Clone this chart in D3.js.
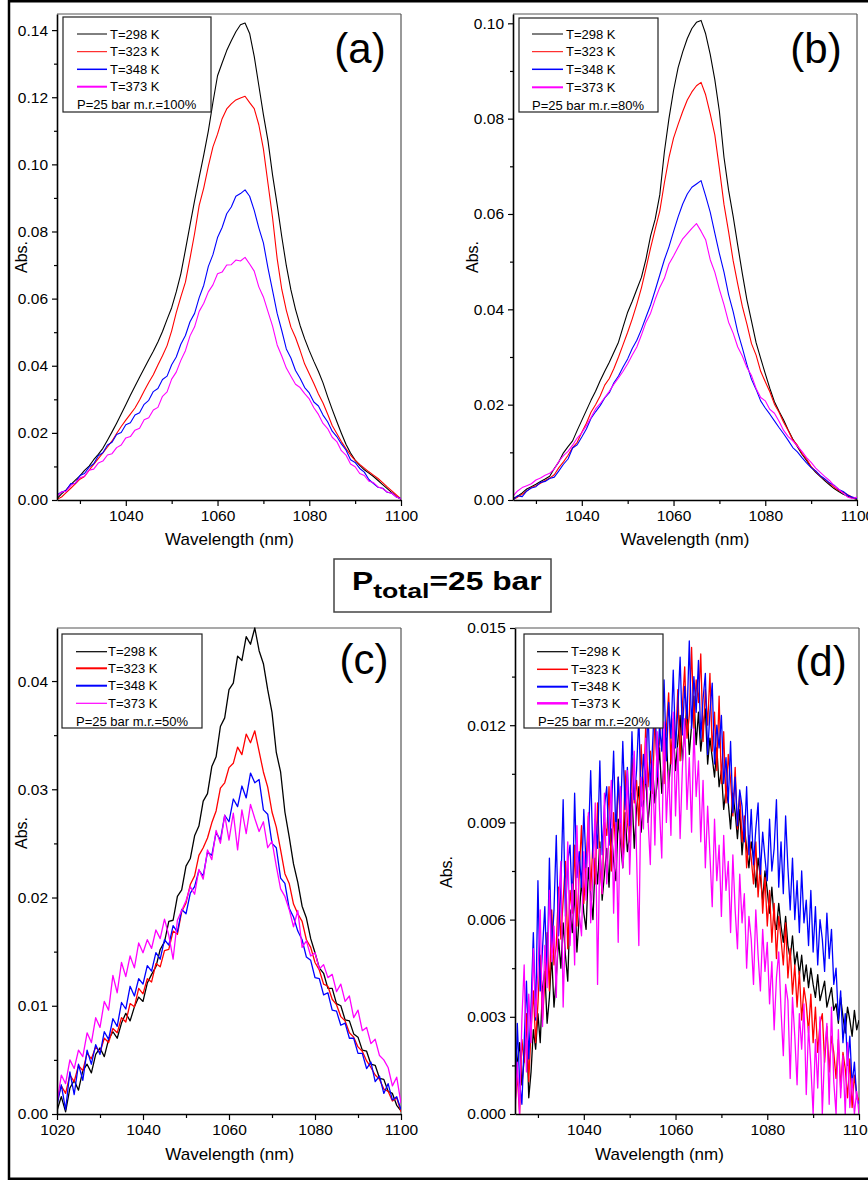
<!DOCTYPE html>
<html><head><meta charset="utf-8">
<script src="https://cdn.jsdelivr.net/npm/d3@7"></script>
<style>
body{margin:0;background:#fff;}
svg{display:block;}
text{font-family:Arial,"Liberation Sans",sans-serif;fill:#000;}
</style>
</head><body>
<svg id="chart" width="868" height="1180"></svg>
<script>
// ---------------- DATA (absorbance in units of 1e-3) ----------------
const seriesLabels = ["T=298 K", "T=323 K", "T=348 K", "T=373 K"];
const seriesColors = ["#000000", "#ff0000", "#0000ff", "#ff00ff"];
const panelNotes = ["P=25 bar m.r.=100%", "P=25 bar m.r.=80%", "P=25 bar m.r.=50%", "P=25 bar m.r.=20%"];
const panelTags = ["(a)", "(b)", "(c)", "(d)"];

// wavelength grids (nm)
const wlAB = d3.range(1025, 1100.5, 1);
const wlC = d3.range(1020, 1100.5, 1);
const wlD = d3.range(1025, 1100.25, 0.5);

// panel (a) m.r.=100%
const a298 = [0.4,1.8,3.0,4.6,5.9,7.2,8.8,10.1,12.0,13.6,
15.4,17.8,20.3,22.9,25.6,28.4,31.2,33.9,36.6,39.2,
41.8,44.3,47.1,50.2,53.8,57.3,62.0,67.4,74.5,81.9,
89.2,96.1,102.8,110.0,118.5,126.4,130.2,133.9,136.8,139.5,
141.6,142.1,139.0,132.2,123.5,114.8,107.0,96.8,88.0,78.5,
69.8,62.6,56.8,52.0,48.0,44.5,41.3,38.3,34.9,30.8,
27.0,23.4,19.9,16.6,14.0,11.9,10.3,9.0,8.0,7.0,
5.8,4.6,3.4,2.2,1.0,0.2];
const a323 = [0.2,0.9,2.2,3.5,4.8,6.2,7.0,8.9,10.6,12.3,
14.0,15.8,17.6,19.8,21.9,23.8,25.6,27.4,29.8,32.5,
35.0,37.3,40.2,43.0,46.0,50.4,55.8,60.5,64.9,72.0,
79.4,87.8,93.0,99.5,105.2,109.0,113.6,116.5,118.0,119.2,
119.8,120.3,118.4,116.6,111.8,104.6,94.3,84.1,71.9,62.8,
56.5,51.5,48.4,44.6,40.5,37.6,34.7,31.6,28.9,25.6,
22.2,19.8,17.4,15.3,13.4,11.8,10.6,9.5,8.4,7.4,
6.4,5.2,3.9,2.7,1.5,0.3];
const a348 = [1.5,2.4,2.8,4.9,5.0,7.3,7.9,9.8,10.8,13.2,
14.1,16.4,17.2,19.5,20.1,22.4,23.0,25.3,26.0,28.5,
29.7,32.3,33.2,35.9,36.9,40.3,42.6,46.4,49.0,53.1,
55.6,60.3,64.0,69.6,73.1,78.2,81.2,85.3,87.3,90.5,
91.3,92.4,90.5,86.3,81.1,76.6,69.1,62.4,55.6,50.5,
45.0,42.3,38.6,36.3,33.5,31.9,29.2,28.0,25.3,23.3,
20.5,18.9,16.7,14.9,12.0,11.2,9.4,8.3,6.1,4.9,
3.8,3.5,2.3,2.0,0.9,0.4];
const a373 = [1.0,2.4,2.6,4.3,5.1,6.6,7.1,8.9,9.2,11.0,
11.6,13.4,13.8,15.6,16.4,18.5,18.9,20.8,21.4,23.9,
24.5,26.8,27.6,30.9,32.2,36.0,38.1,41.6,44.5,48.9,
51.6,56.2,58.6,62.0,64.1,67.4,67.9,70.0,70.1,71.5,
71.2,72.3,70.3,68.2,63.5,60.5,56.1,51.8,46.2,42.9,
39.3,36.9,34.5,33.5,31.7,30.1,27.5,25.5,22.8,21.3,
18.7,17.4,14.7,13.4,10.7,9.9,7.9,7.3,5.6,5.2,
3.9,3.4,2.4,2.0,0.9,0.3];

// panel (b) m.r.=80%
const b298 = [0.3,0.8,1.5,2.3,2.8,3.3,3.9,4.4,5.0,6.6,
8.0,9.9,11.2,12.4,14.6,16.7,18.8,20.9,22.8,25.0,
27.0,28.9,31.0,33.1,36.3,39.4,41.7,44.2,46.7,50.6,
55.4,58.9,64.0,73.0,80.0,85.9,90.7,94.0,96.8,98.9,
100.2,100.6,97.8,93.5,88.2,81.5,71.9,65.0,59.5,53.4,
47.5,42.0,37.5,33.0,29.7,26.5,23.4,20.6,18.6,16.8,
14.7,12.8,11.2,9.6,8.3,6.9,5.8,4.9,4.0,3.2,
2.4,1.8,1.2,0.8,0.4,0.1];
const b323 = [0.1,0.6,1.2,1.9,2.6,3.0,3.5,4.1,4.6,5.3,
6.8,8.0,9.4,11.0,12.1,14.2,16.1,18.4,20.0,21.8,
24.1,25.5,27.6,30.0,32.6,35.2,38.0,41.1,44.5,48.6,
52.9,56.8,60.6,66.5,71.8,75.9,78.8,81.5,83.9,85.6,
86.9,87.6,85.0,81.0,76.6,69.5,62.0,56.3,50.2,45.3,
40.6,36.9,32.8,30.4,27.0,24.8,22.7,20.1,18.4,16.3,
14.6,12.6,11.5,9.8,8.6,7.0,6.0,5.0,4.3,3.5,
2.7,2.0,1.6,1.1,0.6,0.2];
const b348 = [0.0,0.9,0.7,1.9,2.5,2.8,3.7,3.9,4.5,4.8,
6.1,7.5,8.6,10.9,11.6,13.2,14.9,17.1,18.5,19.8,
21.4,22.5,24.6,26.0,27.9,29.6,31.8,33.5,35.8,38.4,
40.9,44.0,47.2,50.4,53.1,56.3,59.4,62.1,64.2,65.6,
66.3,67.0,63.8,60.4,56.0,51.7,47.8,43.1,39.5,35.2,
31.9,28.4,25.3,23.2,20.8,19.3,18.0,16.6,15.2,13.9,
12.5,11.0,10.1,8.9,7.8,6.8,6.1,5.1,4.4,3.6,
3.1,2.2,1.8,1.0,0.6,0.3];
const b373 = [0.8,1.9,2.6,3.0,3.4,4.2,4.6,5.2,5.6,6.5,
8.1,9.3,10.2,11.5,13.0,14.1,15.6,17.3,19.1,20.2,
21.5,22.8,24.3,25.6,27.0,28.6,30.4,32.1,34.6,37.3,
39.2,42.1,44.6,46.5,49.5,51.2,53.0,54.8,55.9,57.0,
58.0,56.4,54.6,50.4,47.8,44.2,41.0,37.3,35.0,32.1,
30.2,27.8,26.1,23.4,21.5,20.8,19.0,18.2,16.5,14.6,
13.3,12.4,11.3,10.2,8.9,7.9,6.7,5.8,4.9,4.1,
3.0,2.3,1.4,0.6,0.3,0.6];

// panel (c) m.r.=50%
const c298 = [0.3,1.6,0.2,2.4,3.1,2.2,4.0,4.6,3.8,5.5,
6.1,5.3,6.9,7.6,7.0,8.4,9.3,8.6,9.9,10.8,
10.4,12.1,12.9,13.6,15.2,15.9,17.8,17.9,20.1,20.7,
22.9,23.6,25.7,26.6,28.9,29.6,32.1,33.0,35.8,36.6,
39.2,39.8,42.3,41.9,44.1,43.4,44.9,42.8,41.6,39.2,
37.1,33.4,31.6,27.9,25.6,23.1,21.4,19.2,18.1,16.2,
14.9,13.5,13.0,11.6,11.6,10.2,10.0,8.7,8.6,7.4,
7.1,5.9,5.8,4.6,4.5,3.3,3.2,2.1,1.9,0.8,
0.3];
const c323 = [1.2,2.6,1.9,3.6,3.0,4.5,4.0,5.6,5.1,6.2,
5.7,7.0,6.6,7.9,7.5,8.9,8.5,10.2,9.9,11.6,
11.1,12.5,12.2,13.9,13.6,15.1,15.2,16.9,16.6,18.7,
19.5,21.2,22.0,23.9,24.6,25.5,26.9,28.0,30.1,30.6,
32.0,32.4,33.9,33.2,35.1,34.3,35.4,33.5,31.6,30.2,
27.9,26.5,24.4,22.2,21.3,19.4,18.5,17.8,16.1,15.4,
14.0,13.3,12.0,11.8,10.6,10.1,9.0,8.6,7.5,7.1,
6.2,5.8,4.9,4.3,3.6,3.2,2.3,2.1,1.2,1.5,
0.2];
const c348 = [0.8,2.7,0.4,3.9,1.8,4.6,3.1,5.9,4.6,6.4,
5.5,7.6,6.9,8.8,8.1,10.3,9.7,11.8,10.9,12.5,
12.0,13.7,13.2,14.9,14.3,16.1,15.6,17.4,16.8,18.9,
18.5,20.4,21.0,22.5,22.0,24.2,23.9,26.0,25.3,27.6,
27.0,29.1,28.4,30.3,29.2,31.5,30.6,30.9,28.1,27.7,
25.0,24.6,21.8,21.3,19.0,18.2,16.9,16.1,14.5,14.2,
12.6,12.5,11.0,11.2,9.6,9.5,8.2,8.4,7.0,7.0,
5.6,5.6,4.2,4.8,3.0,3.5,1.9,2.8,1.3,1.6,
0.4];
const c373 = [1.0,3.6,2.8,5.0,4.2,5.9,5.3,7.5,6.6,8.9,
8.0,10.4,9.6,12.8,11.2,14.0,12.7,14.6,13.5,15.8,
14.9,16.1,15.3,17.0,16.2,18.0,16.5,14.3,17.9,18.8,
19.7,21.0,20.3,22.6,21.7,24.4,23.5,26.2,25.0,27.6,
25.3,27.8,24.4,28.1,25.9,28.6,27.3,26.1,27.0,24.6,
25.2,22.9,20.8,20.1,18.9,17.3,18.8,15.4,16.0,14.6,
14.9,13.4,13.8,12.6,12.9,11.3,12.0,10.4,10.9,8.9,
9.6,7.7,8.0,6.5,6.9,5.4,5.0,4.3,2.6,3.4,
1.0];

// panel (d) m.r.=20%  (0.5 nm steps)
const d298 = [0.4,1.6,2.2,0.9,1.7,2.9,0.5,1.3,2.6,2.0,
3.1,2.2,3.9,4.4,2.8,3.6,4.9,3.3,4.2,5.4,
4.5,5.9,4.9,4.1,6.3,5.6,6.9,5.0,6.1,7.2,
6.2,5.7,7.6,6.8,6.0,7.9,7.1,8.4,6.6,7.4,
8.2,7.0,8.8,7.8,7.2,9.1,8.4,7.6,9.3,8.1,
8.6,9.9,8.2,9.4,10.1,8.7,9.6,10.5,9.0,9.8,
10.7,9.6,10.2,11.3,9.9,10.8,11.6,10.1,11.0,11.9,
10.6,11.5,12.3,10.9,11.8,12.6,11.1,12.0,12.9,11.4,
12.4,11.2,11.9,12.5,10.8,11.6,11.0,10.4,11.3,10.1,
10.6,9.4,10.0,9.6,8.8,9.9,9.3,8.5,9.4,8.0,
8.9,8.2,7.6,8.4,7.9,7.0,7.9,7.3,6.6,7.5,
6.9,6.2,7.0,6.0,5.7,6.5,5.8,5.3,6.1,5.2,
4.8,5.5,4.6,5.0,4.3,4.9,4.1,4.6,3.9,4.5,
4.0,3.6,4.3,3.5,3.8,4.1,3.3,3.6,3.9,3.2,
3.4,2.8,3.6,3.0,2.5,3.3,2.9,2.4,3.2,2.6,
2.9];
const d323 = [0.3,1.2,0.0,2.3,1.6,3.1,1.0,2.6,3.8,2.2,
3.4,4.9,2.9,4.1,5.6,3.8,6.3,4.6,5.2,7.0,
5.4,6.6,7.8,5.1,6.9,6.2,8.3,5.8,7.4,8.9,
6.5,7.7,9.2,6.9,8.4,7.1,9.6,7.8,6.8,9.0,
8.6,10.1,7.5,9.3,8.1,10.4,8.8,7.9,10.6,9.0,
8.4,11.0,9.6,10.3,8.9,11.4,9.7,12.0,10.1,11.2,
9.9,12.3,10.6,11.5,12.7,10.2,11.9,13.0,10.8,12.2,
11.4,13.1,10.9,12.6,13.8,11.6,12.3,14.4,11.9,13.4,
12.7,14.2,11.5,13.1,12.0,13.6,11.2,12.4,10.6,12.9,
10.2,11.8,9.6,11.1,10.3,9.2,10.7,8.8,9.9,8.4,
9.2,7.6,8.6,7.9,7.1,8.4,6.7,7.8,6.2,7.3,
5.8,6.9,5.3,6.5,4.8,6.1,5.4,4.6,5.9,4.2,
5.1,3.7,4.6,3.3,4.4,2.9,3.9,3.4,2.5,3.7,
2.2,3.3,1.9,2.8,3.1,1.6,2.7,1.3,2.4,1.9,
1.1,2.3,0.8,1.9,1.4,0.5,1.7,0.2,1.2,0.6,
0.4];
const d348 = [0.0,2.8,1.0,0.3,2.2,4.1,1.7,3.3,5.6,2.9,
7.2,3.8,5.1,6.4,4.2,7.9,5.0,6.3,8.6,5.5,
7.0,9.7,6.1,7.8,8.3,6.4,9.9,7.3,8.1,7.0,
9.4,7.6,8.4,10.6,7.9,9.1,8.2,10.9,8.0,9.5,
10.1,8.3,9.2,11.2,8.6,10.4,9.0,11.5,9.4,10.7,
8.9,11.8,9.7,10.6,12.3,9.5,11.1,10.2,12.6,10.0,
11.4,13.0,10.4,12.0,11.2,13.4,10.9,12.7,11.6,13.7,
11.3,12.5,14.1,11.7,13.2,12.2,14.6,11.9,13.5,12.4,
14.0,11.6,12.8,13.6,11.1,12.4,13.3,10.8,12.0,11.3,
12.3,10.2,11.0,9.6,11.5,9.3,10.4,8.9,10.0,9.5,
8.4,10.1,8.0,9.4,7.7,8.8,9.6,7.4,8.7,7.9,
7.2,9.1,7.5,8.2,9.7,7.0,8.4,6.8,9.2,7.6,
6.3,7.9,6.0,7.2,5.6,7.5,5.9,6.6,5.2,6.9,
5.0,6.4,4.6,6.0,5.4,4.4,6.2,4.8,5.7,4.0,
4.5,2.9,3.8,2.2,3.1,1.5,2.4,0.9,1.6,0.5,
0.3];
const d373 = [0.0,1.6,0.0,2.9,4.6,1.3,3.7,2.2,5.1,3.0,
4.4,6.3,2.7,5.2,3.9,6.9,4.7,5.8,3.6,6.5,
7.8,3.3,6.0,8.4,5.2,7.1,4.6,8.9,6.2,5.5,
8.1,6.6,9.3,5.9,7.4,9.6,4.0,8.2,6.8,9.9,
7.1,8.7,10.3,6.2,9.0,5.3,10.1,7.6,8.5,10.6,
7.4,9.5,11.2,8.0,5.2,10.4,8.8,11.6,9.1,7.7,
10.9,8.3,11.8,9.4,7.9,12.1,9.0,10.6,8.6,12.4,
9.2,11.3,8.5,10.7,12.2,9.4,11.0,8.7,11.9,9.8,
10.9,8.4,10.3,7.6,9.5,8.0,6.4,9.1,7.2,8.3,
6.1,8.6,6.9,7.8,5.6,8.0,6.3,5.1,7.4,5.9,
6.8,4.5,6.1,5.4,4.0,6.3,4.9,3.8,5.7,4.4,
5.3,3.4,4.7,2.6,4.2,5.0,3.2,1.8,4.0,3.5,
1.1,3.6,2.4,0.9,3.1,2.0,3.4,0.6,2.7,1.5,
0.0,2.3,0.8,3.0,0.0,1.9,2.8,0.3,3.3,1.0,
0.0,2.6,0.5,1.8,0.0,2.2,0.2,1.1,0.0,0.7,
0.0];

// axis ticks (values in 1e-3 units) and their labels
const yTicksA = [0,20,40,60,80,100,120,140];
const yLabelsA = ["0.00","0.02","0.04","0.06","0.08","0.10","0.12","0.14"];
const yTicksB = [0,20,40,60,80,100];
const yLabelsB = ["0.00","0.02","0.04","0.06","0.08","0.10"];
const yTicksC = [0,10,20,30,40];
const yLabelsC = ["0.00","0.01","0.02","0.03","0.04"];
const yTicksD = [0,3,6,9,12,15];
const yLabelsD = ["0.000","0.003","0.006","0.009","0.012","0.015"];
const xTicksABD = [1040,1060,1080,1100];
const xMinorABD = [1030,1050,1070,1090];
const xTicksC = [1020,1040,1060,1080,1100];
const xMinorC = [1030,1050,1070,1090];

// ---------------- LAYOUT ----------------
const panels = [
  {id:"a", wl:wlAB, series:[a298,a323,a348,a373], xDomain:[1025,1100], yMax:144.8,
   left:57, right:401, top:14, bottom:500,
   yTicks:yTicksA, yLabels:yLabelsA, yMinor:[10,30,50,70,90,110,130],
   xTicks:xTicksABD, xMinor:xMinorABD, lw:1.1,
   tag:{x:360,y:63}, xt:{x:229.5,y:545}, yt:{x:27,y:257},
   leg:{box:[63,17,211,112], lx:[77,107], tx:110, rows:[34,51.7,69.3,86.7], py:104, px:77, lws:[1,1,1.5,2]}},
  {id:"b", wl:wlAB, series:[b298,b323,b348,b373], xDomain:[1025,1100], yMax:101.95,
   left:513, right:857, top:14, bottom:500,
   yTicks:yTicksB, yLabels:yLabelsB, yMinor:[10,30,50,70,90],
   xTicks:xTicksABD, xMinor:xMinorABD, lw:1.1,
   tag:{x:816,y:63}, xt:{x:685,y:545}, yt:{x:478,y:257},
   leg:{box:[519,18,658,112], lx:[532,563], tx:566, rows:[34,51.7,69.3,87.3], py:105, px:532, lws:[1,1,1.5,2]}},
  {id:"c", wl:wlC, series:[c298,c323,c348,c373], xDomain:[1020,1100], yMax:44.9,
   left:57, right:401, top:628, bottom:1114,
   yTicks:yTicksC, yLabels:yLabelsC, yMinor:[5,15,25,35],
   xTicks:xTicksC, xMinor:xMinorC, lw:1.3,
   tag:{x:364,y:674}, xt:{x:229.7,y:1160}, yt:{x:27,y:833},
   leg:{box:[62,634,202,728], lx:[76,107], tx:108, rows:[651.7,668.3,685.7,703.3], py:721, px:76, lws:[1.2,2,2,1.2]}},
  {id:"d", wl:wlD, series:[d298,d323,d348,d373], xDomain:[1025,1100], yMax:15.0,
   left:515, right:859, top:628, bottom:1114,
   yTicks:yTicksD, yLabels:yLabelsD, yMinor:[1.5,4.5,7.5,10.5,13.5],
   xTicks:xTicksABD, xMinor:xMinorABD, lw:1.3,
   tag:{x:821,y:676}, xt:{x:659.5,y:1160}, yt:{x:452,y:872},
   leg:{box:[524,634,663,728], lx:[537,568], tx:571, rows:[651.7,669.3,686.7,703.3], py:721.7, px:538, lws:[1.2,1.5,2,2.5]}}
];

const svg = d3.select("#chart");
svg.append("rect").attr("x",0).attr("y",0).attr("width",868).attr("height",1180).attr("fill","#fff");

panels.forEach((p, pi) => {
  const x = d3.scaleLinear().domain(p.xDomain).range([p.left, p.right]);
  const y = d3.scaleLinear().domain([0, p.yMax]).range([p.bottom, p.top]);
  const g = svg.append("g");
  const clipId = "clip-" + p.id;
  svg.append("clipPath").attr("id", clipId).append("rect")
    .attr("x", p.left).attr("y", p.top - 1).attr("width", p.right - p.left).attr("height", p.bottom - p.top + 1);

  // frame top/right (grey)
  g.append("line").attr("x1",p.left).attr("x2",p.right).attr("y1",p.top).attr("y2",p.top).attr("stroke","#555").attr("stroke-width",1.2);
  g.append("line").attr("x1",p.right).attr("x2",p.right).attr("y1",p.top).attr("y2",p.bottom).attr("stroke","#555").attr("stroke-width",1.2);

  // data lines
  const line = d3.line().x((d, i) => x(p.wl[i])).y(d => y(d));
  p.series.forEach((s, k) => {
    g.append("path").attr("clip-path", `url(#${clipId})`)
      .attr("d", line(s)).attr("fill","none")
      .attr("stroke", seriesColors[k]).attr("stroke-width", p.lw)
      .attr("stroke-linejoin","round");
  });

  // axes
  g.append("g").attr("transform", `translate(0,${p.bottom})`)
    .call(d3.axisBottom(x).tickValues(p.xTicks).tickFormat(d3.format("d")).tickSize(6).tickSizeOuter(0).tickPadding(4));
  g.append("g").attr("transform", `translate(0,${p.bottom})`)
    .call(d3.axisBottom(x).tickValues(p.xMinor).tickFormat("").tickSize(4).tickSizeOuter(0))
    .select(".domain").remove();
  g.append("g").attr("transform", `translate(${p.left},0)`)
    .call(d3.axisLeft(y).tickValues(p.yTicks).tickFormat((d, i) => p.yLabels[i]).tickSize(5).tickSizeOuter(0).tickPadding(4));
  g.append("g").attr("transform", `translate(${p.left},0)`)
    .call(d3.axisLeft(y).tickValues(p.yMinor).tickFormat("").tickSize(3).tickSizeOuter(0))
    .select(".domain").remove();
  g.selectAll(".domain").attr("stroke","#000").attr("stroke-width",1.6);
  g.selectAll(".tick line").attr("stroke","#000").attr("stroke-width",1.2);
  g.selectAll(".tick text").attr("font-size","15.5px").attr("font-family","Arial, 'Liberation Sans', sans-serif").attr("fill","#000");

  // axis titles
  g.append("text").attr("x", p.xt.x).attr("y", p.xt.y).attr("text-anchor","middle")
    .attr("font-size","17px").text("Wavelength (nm)");
  g.append("text").attr("transform", `translate(${p.yt.x},${p.yt.y}) rotate(-90)`).attr("text-anchor","middle")
    .attr("font-size","16px").text("Abs.");

  // panel tag
  g.append("text").attr("x", p.tag.x).attr("y", p.tag.y).attr("text-anchor","middle")
    .attr("font-size","42px").text(panelTags[pi]);

  // legend
  const L = p.leg;
  g.append("rect").attr("x", L.box[0]).attr("y", L.box[1]).attr("width", L.box[2]-L.box[0]).attr("height", L.box[3]-L.box[1])
    .attr("fill","#fff").attr("stroke","#222").attr("stroke-width",1.2);
  seriesLabels.forEach((lab, k) => {
    g.append("line").attr("x1", L.lx[0]).attr("x2", L.lx[1]).attr("y1", L.rows[k]).attr("y2", L.rows[k])
      .attr("stroke", seriesColors[k]).attr("stroke-width", L.lws[k]);
    g.append("text").attr("x", L.tx).attr("y", L.rows[k] + 4.7).attr("font-size","13px").text(lab);
  });
  g.append("text").attr("x", L.px).attr("y", L.py + 4.7).attr("font-size","13px").text(panelNotes[pi]);
});

// central title box
svg.append("rect").attr("x",334).attr("y",559).attr("width",217).attr("height",53)
  .attr("fill","#fff").attr("stroke","#444").attr("stroke-width",1.5);
const tt = svg.append("text").attr("transform","translate(352,590) scale(1.27,1)")
  .attr("font-weight","bold").attr("font-size","25px");
tt.append("tspan").text("P");
tt.append("tspan").attr("font-size","21px").attr("dy",8).text("total");
tt.append("tspan").attr("dy",-8).text("=25 bar");

// outer figure frame
svg.append("rect").attr("x",9).attr("y",1.25).attr("width",880).attr("height",1177.5)
  .attr("fill","none").attr("stroke","#000").attr("stroke-width",2.5);
</script>
</body></html>
